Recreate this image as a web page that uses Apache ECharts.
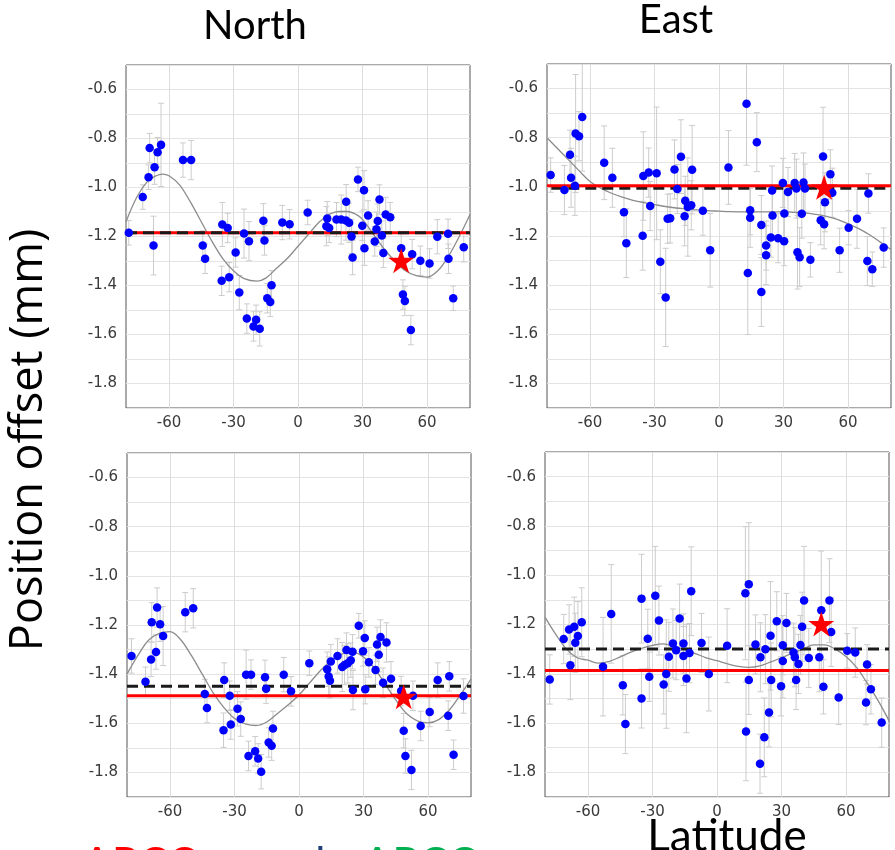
<!DOCTYPE html>
<html>
<head>
<meta charset="utf-8">
<script src="https://cdn.jsdelivr.net/npm/echarts@6/dist/echarts.min.js"></script>
<style>html,body{margin:0;padding:0;background:#fff;}#c{width:895px;height:850px;}</style>
</head>
<body>
<div id="c"></div>
<script>
// ---------- DATA ----------
const xTicks = [-60, -30, 0, 30, 60];
const hLineX = [-80, 80];

// Panel 1: North (top)
const latN1 = [-78.7,-72.2,-69.5,-69.0,-67.2,-66.7,-65.3,-63.7,-53.5,-49.7,-44.3,-43.2,-35.5,-35.2,-32.7,-32.0,-29.0,-27.3,-25.1,-23.8,-22.8,-20.7,-19.5,-17.8,-16.1,-15.6,-14.3,-12.9,-12.3,-7.3,-3.9,4.5,13.6,13.2,14.5,17.9,20.1,22.3,22.4,23.8,24.9,25.4,27.9,29.9,30.7,30.9,32.6,35.7,36.5,37.1,37.9,39.0,39.7,40.8,42.9,48.0,48.8,49.7,52.5,53.1,56.9,61.2,64.8,69.8,70.0,72.2,77.1];
const valN1 = [-1.185,-1.039,-0.958,-0.839,-1.237,-0.917,-0.856,-0.826,-0.888,-0.888,-1.237,-1.291,-1.381,-1.151,-1.165,-1.366,-1.265,-1.429,-1.188,-1.535,-1.219,-1.567,-1.540,-1.577,-1.136,-1.216,-1.452,-1.467,-1.399,-1.143,-1.150,-1.102,-1.127,-1.158,-1.165,-1.131,-1.131,-1.135,-1.058,-1.144,-1.200,-1.286,-0.967,-1.156,-1.011,-1.248,-1.114,-1.220,-1.170,-1.137,-1.049,-1.196,-1.267,-1.110,-1.121,-1.248,-1.437,-1.463,-1.582,-1.272,-1.299,-1.310,-1.201,-1.189,-1.291,-1.452,-1.244];
const errN1 = [0.05,0.05,0.05,0.06,0.12,0.07,0.06,0.17,0.07,0.08,0.06,0.06,0.06,0.09,0.06,0.06,0.06,0.07,0.10,0.06,0.08,0.06,0.06,0.07,0.07,0.06,0.06,0.06,0.06,0.07,0.06,0.05,0.07,0.08,0.06,0.07,0.10,0.08,0.07,0.08,0.07,0.07,0.05,0.06,0.08,0.07,0.06,0.06,0.07,0.07,0.06,0.06,0.06,0.07,0.06,0.06,0.06,0.06,0.06,0.06,0.06,0.06,0.07,0.06,0.06,0.05,0.06];
const starN1 = [48.0, -1.299];
const redN1 = -1.185;
const blackN1 = -1.185;
const curveLatN1 = [-80,-75,-70,-66,-63,-60,-55,-50,-45,-40,-35,-30,-25,-19,-15,-10,-5,0,5,10,15,19,23,27,30,35,40,45,50,55,60,65,70,75,80];
const curveN1 = [-1.14,-1.04,-0.975,-0.952,-0.945,-0.952,-0.99,-1.06,-1.14,-1.22,-1.29,-1.34,-1.372,-1.382,-1.37,-1.33,-1.29,-1.24,-1.19,-1.14,-1.108,-1.098,-1.098,-1.11,-1.13,-1.19,-1.25,-1.30,-1.34,-1.36,-1.366,-1.34,-1.28,-1.20,-1.11];

// Panel 2: East (top)
const latE1 = [-78.3,-71.9,-69.3,-68.8,-66.7,-67.0,-65.1,-63.6,-53.4,-49.6,-44.2,-43.1,-35.5,-35.2,-32.7,-32.0,-29.0,-27.3,-24.8,-23.9,-22.7,-20.7,-19.4,-17.7,-16.0,-15.7,-14.5,-12.9,-12.5,-7.5,-4.1,4.4,12.8,13.4,14.5,14.5,17.6,19.7,19.7,21.9,21.9,24.1,24.7,24.9,27.5,29.7,30.4,30.3,32.1,35.2,36.0,36.5,37.5,38.5,39.3,40.0,42.5,47.3,48.4,48.9,49.3,51.8,52.7,56.1,60.3,64.2,69.0,69.5,71.3,76.6];
const valE1 = [-0.952,-1.013,-0.869,-0.963,-0.783,-0.996,-0.794,-0.716,-0.902,-0.963,-1.103,-1.229,-1.199,-0.956,-0.942,-1.078,-0.945,-1.305,-1.450,-1.130,-1.128,-0.929,-1.009,-0.877,-1.120,-1.057,-1.082,-1.075,-0.930,-1.097,-1.258,-0.921,-0.662,-1.351,-1.095,-1.126,-0.818,-1.155,-1.428,-1.239,-1.278,-1.206,-1.015,-1.117,-1.209,-0.984,-1.108,-1.221,-1.021,-0.984,-1.007,-1.266,-1.286,-1.109,-0.982,-1.007,-1.297,-1.136,-0.876,-1.152,-1.063,-0.949,-1.024,-1.258,-1.166,-1.130,-1.302,-1.027,-1.335,-1.247];
const errE1 = [0.07,0.10,0.10,0.12,0.24,0.12,0.10,0.22,0.15,0.12,0.10,0.14,0.14,0.18,0.10,0.10,0.27,0.13,0.20,0.10,0.10,0.12,0.10,0.15,0.12,0.10,0.20,0.10,0.18,0.10,0.15,0.15,0.25,0.25,0.10,0.12,0.12,0.12,0.14,0.10,0.12,0.08,0.10,0.10,0.10,0.10,0.10,0.10,0.10,0.12,0.12,0.15,0.12,0.10,0.12,0.10,0.07,0.10,0.20,0.10,0.12,0.10,0.10,0.09,0.07,0.12,0.10,0.08,0.07,0.08];
const starE1 = [48.9, -1.002];
const redE1 = -0.996;
const blackE1 = -1.006;
const blackXE1 = [-78, 80];
const curveLat = [-80,-75,-70,-65,-60,-55,-50,-45,-40,-35,-30,-25,-20,-15,-10,-5,0,5,10,15,20,25,30,35,40,45,50,55,60,65,70,75,80];
const curveE1 = [-0.80,-0.845,-0.89,-0.935,-0.978,-1.005,-1.026,-1.042,-1.055,-1.064,-1.072,-1.080,-1.086,-1.090,-1.094,-1.097,-1.099,-1.101,-1.102,-1.102,-1.102,-1.102,-1.102,-1.104,-1.106,-1.112,-1.12,-1.132,-1.15,-1.17,-1.195,-1.225,-1.255];

// Panel 3: North (bottom)
const latN2 = [-77.9,-71.4,-68.8,-68.5,-66.5,-66.0,-64.6,-63.2,-52.9,-49.2,-43.8,-42.8,-35.1,-34.8,-32.2,-31.7,-28.6,-27.1,-24.6,-23.5,-22.3,-20.4,-19.0,-17.6,-15.8,-15.3,-14.1,-12.7,-12.1,-7.1,-3.7,4.8,13.1,13.8,14.4,14.8,17.9,20.1,21.2,22.1,22.7,24.1,24.9,25.1,27.8,29.8,30.6,30.8,32.5,35.6,36.3,37.1,37.9,39.1,40.7,42.8,47.5,48.7,49.5,52.3,53.0,56.6,60.8,64.5,69.4,69.9,71.9,76.5];
const valN2 = [-1.326,-1.431,-1.340,-1.189,-1.310,-1.129,-1.197,-1.245,-1.148,-1.132,-1.481,-1.538,-1.628,-1.424,-1.488,-1.605,-1.541,-1.583,-1.402,-1.733,-1.402,-1.714,-1.743,-1.797,-1.413,-1.459,-1.678,-1.691,-1.621,-1.402,-1.470,-1.356,-1.380,-1.410,-1.427,-1.349,-1.326,-1.371,-1.363,-1.302,-1.356,-1.343,-1.309,-1.465,-1.203,-1.307,-1.253,-1.461,-1.352,-1.383,-1.279,-1.321,-1.249,-1.435,-1.271,-1.419,-1.469,-1.630,-1.733,-1.790,-1.488,-1.611,-1.554,-1.424,-1.569,-1.409,-1.728,-1.489];
const errN2 = [0.07,0.06,0.07,0.08,0.07,0.08,0.07,0.12,0.08,0.08,0.06,0.06,0.07,0.07,0.06,0.06,0.07,0.07,0.10,0.06,0.06,0.06,0.06,0.07,0.07,0.06,0.06,0.06,0.07,0.07,0.06,0.05,0.07,0.08,0.07,0.07,0.07,0.10,0.08,0.07,0.08,0.07,0.07,0.08,0.05,0.06,0.07,0.06,0.06,0.06,0.07,0.07,0.07,0.06,0.08,0.07,0.06,0.07,0.07,0.08,0.06,0.06,0.06,0.07,0.06,0.06,0.06,0.07];
const starN2 = [48.7, -1.492];
const redN2 = -1.488;
const blackN2 = -1.449;
const curveN2 = [-1.40,-1.325,-1.262,-1.234,-1.227,-1.26,-1.325,-1.40,-1.475,-1.535,-1.58,-1.602,-1.609,-1.595,-1.56,-1.525,-1.485,-1.435,-1.385,-1.345,-1.318,-1.31,-1.33,-1.375,-1.44,-1.505,-1.56,-1.59,-1.598,-1.585,-1.545,-1.485,-1.42];

// Panel 4: East (bottom)
const latE2 = [-77.8,-71.3,-68.8,-68.2,-66.4,-65.9,-64.7,-62.9,-53.0,-49.2,-43.8,-42.6,-35.1,-35.1,-32.2,-31.5,-28.7,-27.0,-24.8,-23.6,-22.4,-20.5,-19.0,-17.4,-15.6,-15.6,-14.2,-12.8,-12.0,-7.2,-3.8,4.7,13.2,13.5,14.8,14.8,17.9,20.0,20.2,22.0,22.5,24.2,24.9,25.2,27.8,29.8,30.6,30.6,32.3,35.6,36.2,36.8,37.9,38.8,39.6,40.5,42.7,47.6,48.5,49.5,52.3,53.1,56.6,60.6,64.3,69.3,69.8,71.6,76.6];
const valE2 = [-1.423,-1.259,-1.220,-1.365,-1.209,-1.274,-1.247,-1.191,-1.371,-1.157,-1.447,-1.604,-1.095,-1.500,-1.258,-1.412,-1.083,-1.184,-1.443,-1.401,-1.331,-1.277,-1.304,-1.176,-1.277,-1.328,-1.419,-1.316,-1.065,-1.275,-1.401,-1.286,-1.073,-1.634,-1.037,-1.425,-1.281,-1.765,-1.333,-1.658,-1.300,-1.557,-1.246,-1.425,-1.187,-1.451,-1.284,-1.348,-1.194,-1.314,-1.333,-1.425,-1.360,-1.283,-1.209,-1.103,-1.336,-1.333,-1.142,-1.453,-1.103,-1.230,-1.496,-1.307,-1.314,-1.517,-1.362,-1.463,-1.598];
const errE2 = [0.10,0.10,0.10,0.14,0.12,0.12,0.14,0.14,0.20,0.20,0.12,0.12,0.18,0.12,0.12,0.10,0.20,0.14,0.12,0.22,0.14,0.14,0.12,0.14,0.12,0.12,0.22,0.12,0.18,0.12,0.15,0.15,0.27,0.20,0.25,0.14,0.12,0.12,0.14,0.16,0.14,0.14,0.22,0.15,0.12,0.12,0.12,0.15,0.12,0.12,0.12,0.12,0.12,0.12,0.14,0.22,0.12,0.14,0.24,0.11,0.17,0.14,0.11,0.07,0.10,0.09,0.08,0.10,0.10];
const starE2 = [48.5, -1.198];
const redE2 = -1.387;
const blackE2 = -1.299;
const curveE2 = [-1.17,-1.24,-1.30,-1.335,-1.345,-1.357,-1.35,-1.331,-1.312,-1.297,-1.285,-1.279,-1.288,-1.302,-1.318,-1.335,-1.347,-1.36,-1.37,-1.374,-1.368,-1.352,-1.335,-1.316,-1.30,-1.283,-1.283,-1.30,-1.33,-1.375,-1.44,-1.51,-1.59];

// ---------- BUILD ----------
const panels = [
  {lat: latN1, val: valN1, err: errN1, star: starN1, red: redN1, black: blackN1, blackX: hLineX, cLat: curveLatN1, curve: curveN1, blackOnTop: true,  grid: {left:126, top:65, width:344, height:343}},
  {lat: latE1, val: valE1, err: errE1, star: starE1, red: redE1, black: blackE1, blackX: blackXE1, cLat: curveLat, curve: curveE1, blackOnTop: false, grid: {left:547, top:64, width:344, height:344}},
  {lat: latN2, val: valN2, err: errN2, star: starN2, red: redN2, black: blackN2, blackX: hLineX, cLat: curveLat, curve: curveN2, blackOnTop: true,  grid: {left:127, top:453, width:344, height:344}},
  {lat: latE2, val: valE2, err: errE2, star: starE2, red: redE2, black: blackE2, blackX: hLineX, cLat: curveLat, curve: curveE2, blackOnTop: true,  grid: {left:545, top:452, width:344, height:345}}
];

const STAR = 'path://M50,0 L61.2,34.5 L97.6,34.5 L68.2,55.9 L79.4,90.5 L50,69.1 L20.6,90.5 L31.8,55.9 L2.4,34.5 L38.8,34.5 Z';
const tickFont = 'DejaVu Sans';

const grids = [], xAxes = [], yAxes = [], series = [];
panels.forEach((p, i) => {
  grids.push(Object.assign({show: true, borderColor: '#555', borderWidth: 1, backgroundColor: 'transparent'}, p.grid));
  xAxes.push({
    type: 'value', gridIndex: i, min: -80, max: 80,
    axisLine: {show: false}, axisTick: {show: false}, splitLine: {show: false},
    axisLabel: {customValues: xTicks, color: '#3a3a3a', fontSize: 15, fontFamily: tickFont, margin: 8}
  });
  yAxes.push({
    type: 'value', gridIndex: i, min: -1.9, max: -0.5, interval: 0.1,
    axisLine: {show: false}, axisTick: {show: false},
    splitLine: {show: true, lineStyle: {color: '#e4e4e4', width: 1}},
    axisLabel: {
      color: '#3a3a3a', fontSize: 15, fontFamily: tickFont, margin: 9,
      formatter: v => (Math.abs(Math.round(v * 10)) % 2 === 0 ? v.toFixed(1) : '')
    }
  });
  // vertical grid lines
  series.push({
    type: 'line', xAxisIndex: i, yAxisIndex: i, data: [], silent: true, z: 1,
    markLine: {
      silent: true, symbol: 'none', z: 1, animation: false,
      label: {show: false},
      lineStyle: {color: '#dcdcdc', type: 'solid', width: 1},
      data: xTicks.map(v => ({xAxis: v}))
    }
  });
  // error bars
  series.push({
    type: 'custom', xAxisIndex: i, yAxisIndex: i, z: 2, silent: true, clip: true,
    data: p.lat.map((x, k) => [x, p.val[k], p.err[k]]),
    renderItem: (params, api) => {
      const x = api.value(0), y = api.value(1), e = api.value(2);
      const a = api.coord([x, y + e]), b = api.coord([x, y - e]);
      const st = {stroke: '#cccccc', lineWidth: 1};
      return {type: 'group', children: [
        {type: 'line', shape: {x1: a[0], y1: a[1], x2: b[0], y2: b[1]}, style: st},
        {type: 'line', shape: {x1: a[0] - 3, y1: a[1], x2: a[0] + 3, y2: a[1]}, style: st},
        {type: 'line', shape: {x1: b[0] - 3, y1: b[1], x2: b[0] + 3, y2: b[1]}, style: st}
      ]};
    }
  });
  // fitted curve
  series.push({
    type: 'line', xAxisIndex: i, yAxisIndex: i, z: 3, smooth: 0.35, showSymbol: false, silent: true,
    data: p.cLat.map((x, k) => [x, p.curve[k]]),
    lineStyle: {color: '#8c8c8c', width: 1.3}
  });
  const redS = {
    type: 'line', xAxisIndex: i, yAxisIndex: i, z: 4, showSymbol: false, silent: true,
    data: hLineX.map(x => [x, p.red]),
    lineStyle: {color: '#ff0000', width: 3}
  };
  const blackS = {
    type: 'line', xAxisIndex: i, yAxisIndex: i, z: 4, showSymbol: false, silent: true,
    data: p.blackX.map(x => [x, p.black]),
    lineStyle: {color: '#1a1a1a', width: 3, type: [11, 6]}
  };
  if (p.blackOnTop) { series.push(redS, blackS); } else { series.push(blackS, redS); }
  // points
  series.push({
    type: 'scatter', xAxisIndex: i, yAxisIndex: i, z: 5, silent: true,
    symbolSize: 8.5,
    itemStyle: {color: '#0000ff', opacity: 1},
    data: p.lat.map((x, k) => [x, p.val[k]])
  });
  // star
  series.push({
    type: 'scatter', xAxisIndex: i, yAxisIndex: i, z: 6, silent: true,
    symbol: STAR, symbolSize: [26, 25],
    itemStyle: {color: '#ff0000', opacity: 1},
    data: [p.star]
  });
});

const titleFont = 'Lato';
const graphic = [
  {type: 'text', x: 255, y: 6, style: {text: 'North', font: '40px ' + titleFont, fill: '#000', align: 'center', verticalAlign: 'top'}},
  {type: 'text', x: 676, y: 0, style: {text: 'East', font: '40px ' + titleFont, fill: '#000', align: 'center', verticalAlign: 'top'}},
  {type: 'text', x: 727, y: 815, style: {text: 'Latitude', font: '44px ' + titleFont, fill: '#000', align: 'center', verticalAlign: 'top'}},
  {type: 'text', x: 29, y: 440, rotation: Math.PI / 2, style: {text: 'Position offset (mm)', font: '45px "Open Sans"', fill: '#000', align: 'center', verticalAlign: 'middle'}},
  {type: 'text', x: 82, y: 843, style: {
    text: '{r|ΔPCO}{b|and}{g|ΔPCO}', verticalAlign: 'top', font: '44px ' + titleFont,
    rich: {
      r: {fill: '#ff0000', font: '44px ' + titleFont},
      b: {fill: '#1f3f7a', font: '44px ' + titleFont, padding: [0, 37, 0, 52]},
      g: {fill: '#00b050', font: '44px ' + titleFont}
    }
  }}
];

const chart = echarts.init(document.getElementById('c'), null, {renderer: 'canvas'});
chart.setOption({
  animation: false,
  backgroundColor: '#fff',
  grid: grids, xAxis: xAxes, yAxis: yAxes, series: series, graphic: graphic
});
</script>
</body>
</html>
